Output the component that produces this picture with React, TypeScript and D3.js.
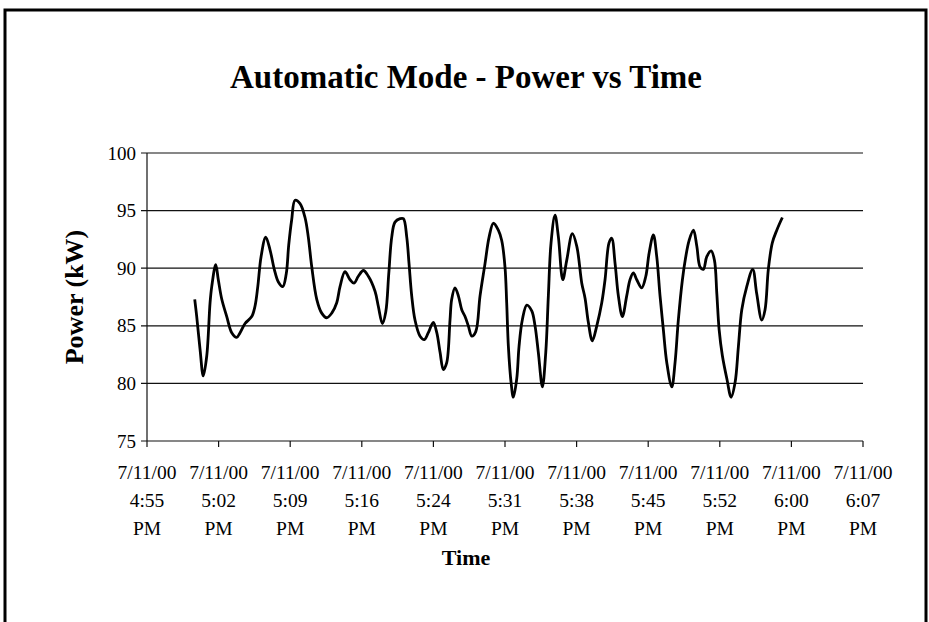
import React from "react";
import * as d3 from "d3";

const title = "Automatic Mode - Power vs Time";
const yLabel = "Power (kW)";
const xLabel = "Time";

// minutes after 5:00 PM on 7/11/00
const minutes = [
  0.0, 0.2, 0.53, 0.86, 1.21, 1.54, 1.71, 2.11, 2.37, 2.72, 3.22, 3.72, 4.22, 4.56, 5.06, 5.73, 6.06, 6.34, 6.67,
  7.14, 7.57, 8.0, 8.41, 8.85, 9.2, 9.45, 9.75, 10.09, 10.59, 11.09, 11.42, 11.77, 12.27, 12.77, 13.27, 13.78,
  14.28, 14.61, 15.11, 15.62, 16.02, 16.45, 16.96, 17.46, 18.13, 18.46, 18.87, 19.21, 19.51, 19.81, 20.14, 20.65,
  20.98, 21.32, 21.55, 21.82, 22.15, 22.66, 23.09, 23.49, 23.99, 24.34, 24.67, 25.0, 25.34, 25.67, 25.84, 26.17,
  26.51, 26.85, 27.18, 27.51, 27.86, 28.26, 28.69, 29.19, 29.6, 30.03, 30.53, 30.87, 31.2, 31.37, 31.54, 31.81,
  32.04, 32.38, 32.61, 32.94, 33.39, 33.89, 34.22, 34.55, 34.96, 35.3, 35.56, 35.83, 36.23, 36.57, 37.01, 37.41,
  37.97, 38.42, 38.92, 39.25, 39.58, 39.98, 40.43, 40.93, 41.26, 41.66, 41.93, 42.27, 42.6, 43.0, 43.44, 43.77,
  44.11, 44.45, 44.95, 45.36, 45.69, 46.12, 46.46, 46.79, 47.12, 47.47, 47.97, 48.3, 48.63, 49.04, 49.36, 49.71,
  50.15, 50.49, 50.82, 51.15, 51.49, 51.93, 52.26, 52.5, 52.73, 53.06, 53.51, 53.94, 54.34, 54.67, 55.01, 55.51,
  56.11, 56.51, 57.02, 57.35, 57.68, 58.08, 58.53, 59.09,
];

const powerKW = [
  87.3, 85.8, 83.0, 80.65, 82.4, 87.0, 88.4, 90.3, 89.0, 87.3, 85.8, 84.4, 84.0, 84.4, 85.2, 85.8, 86.7, 88.4, 91.0,
  92.7, 91.6, 89.9, 88.8, 88.4, 89.5, 92.0, 94.2, 95.9, 95.6, 94.4, 92.7, 90.1, 87.3, 86.1, 85.7, 86.1,
  87.0, 88.4, 89.7, 89.0, 88.7, 89.3, 89.8, 89.3, 88.0, 86.7, 85.2, 86.2, 89.5, 92.7, 94.0, 94.3,
  94.3, 92.7, 90.4, 87.6, 85.5, 84.1, 83.8, 84.4, 85.3, 84.4, 82.7, 81.2, 81.8, 85.5, 87.3, 88.3,
  87.6, 86.4, 85.8, 85.0, 84.1, 84.5, 87.6, 90.4, 92.7, 93.9, 93.3, 92.4, 90.1, 87.0, 83.2, 80.1,
  78.8, 80.4, 83.2, 85.5, 86.8, 86.3, 85.0, 82.7, 79.7, 82.7, 87.6, 92.2, 94.6, 92.7, 89.0, 90.7,
  93.0, 91.9, 88.7, 87.4, 85.3, 83.7, 85.0, 87.0, 89.0, 92.2, 92.6, 90.4, 87.6, 85.8, 87.6, 89.0,
  89.6, 89.0, 88.3, 89.3, 91.3, 92.9, 91.0, 87.6, 84.7, 81.8, 79.7, 81.8, 85.5, 89.0, 90.9, 92.4,
  93.3, 91.9, 90.1, 89.9, 91.0, 91.5, 90.7, 87.8, 84.7, 82.4, 80.4, 78.8, 80.1, 83.2, 86.4, 88.4,
  89.9, 87.8, 85.5, 86.4, 89.9, 92.2, 93.3, 94.4,
];

const yTicks = [75, 80, 85, 90, 95, 100];
// axis ticks every 0.005 day (7.2 min), starting 4:55:12 PM
const xTickMinutes = [-4.8, 2.4, 9.6, 16.8, 24.0, 31.2, 38.4, 45.6, 52.8, 60.0, 67.2];

const base = new Date(2000, 6, 11, 17, 0, 0).getTime();
const toDate = (m: number) => new Date(base + m * 60000);

export default function App() {
  const W = 929;
  const H = 622;
  const left = 147;
  const right = 863;
  const top = 153;
  const bottom = 441;

  const x = d3.scaleTime().domain([toDate(-4.8), toDate(67.2)]).range([left, right]);
  const y = d3.scaleLinear().domain([75, 100]).range([bottom, top]);

  const data = minutes.map((m, i) => ({ t: toDate(m), v: powerKW[i] }));
  const line = d3
    .line<{ t: Date; v: number }>()
    .x((d) => x(d.t))
    .y((d) => y(d.v))
    .curve(d3.curveCatmullRom.alpha(0.5));

  const fDate = d3.timeFormat("%-m/%d/%y");
  const fTime = d3.timeFormat("%-I:%M");
  const fAmPm = d3.timeFormat("%p");
  const fs = { fontFamily: "Liberation Serif" };

  return (
    <svg
      width={W}
      height={H}
      style={{ position: "absolute", left: 0, top: 0, background: "#fff", fontFamily: "Liberation Serif" }}
    >
      <rect x={0} y={0} width={W} height={H} fill="#fff" />
      <rect x={5} y={10} width={921} height={640} fill="none" stroke="#000" strokeWidth={3} />
      <text x={466} y={88} textAnchor="middle" fontSize={33} fontWeight="bold" style={fs}>
        {title}
      </text>

      {yTicks.map((t) => (
        <g key={t}>
          <line x1={left - 6} x2={right} y1={y(t)} y2={y(t)} stroke="#111" strokeWidth={1.2} />
          <text x={left - 11} y={y(t)} dy="0.35em" textAnchor="end" fontSize={19} style={fs}>
            {t}
          </text>
        </g>
      ))}
      <line x1={left} x2={left} y1={top} y2={bottom} stroke="#111" strokeWidth={1.2} />

      {xTickMinutes.map((m) => {
        const d = toDate(m);
        const px = x(d);
        return (
          <g key={m}>
            <line x1={px} x2={px} y1={bottom} y2={bottom + 6} stroke="#111" strokeWidth={1.2} />
            <text x={px} y={bottom + 38} textAnchor="middle" fontSize={19.5} style={fs}>
              {fDate(d)}
            </text>
            <text x={px} y={bottom + 66} textAnchor="middle" fontSize={19.5} style={fs}>
              {fTime(d)}
            </text>
            <text x={px} y={bottom + 94} textAnchor="middle" fontSize={19.5} style={fs}>
              {fAmPm(d)}
            </text>
          </g>
        );
      })}

      <path d={line(data) || ""} fill="none" stroke="#000" strokeWidth={2.8} strokeLinejoin="round" />

      <text x={466} y={565} textAnchor="middle" fontSize={22} fontWeight="bold" style={fs}>
        {xLabel}
      </text>
      <text
        transform={`translate(83, ${(top + bottom) / 2}) rotate(-90)`}
        textAnchor="middle"
        fontSize={26}
        fontWeight="bold"
        style={fs}
      >
        {yLabel}
      </text>
    </svg>
  );
}
